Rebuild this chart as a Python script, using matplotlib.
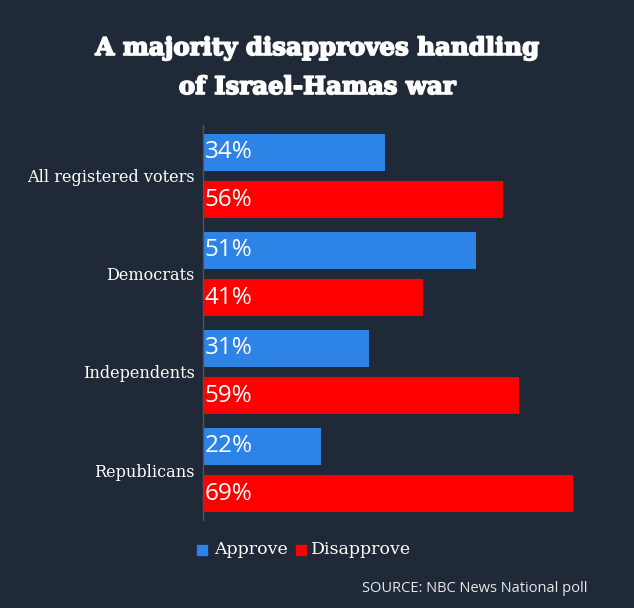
import numpy as np
import matplotlib
matplotlib.use('Agg')
import matplotlib.pyplot as plt
import matplotlib.patches as mpatches
import matplotlib.patheffects as pe

# Dane
groups = ['All registered voters', 'Democrats', 'Independents', 'Republicans']
approve = [34, 51, 31, 22]
disapprove = [56, 41, 59, 69]

bg = '#1f2937'
c_app = '#2e83e6'
c_dis = '#ff0000'

fig = plt.figure(figsize=(6.34, 6.08), dpi=100, facecolor=bg)
W, H = 634, 608
ax = fig.add_axes([203 / W, 1 - 520 / H, 390 / W, 395 / H])
ax.set_facecolor(bg)

y = np.arange(len(groups))
off, h = 0.243, 0.375
ax.barh(y - off, approve, h, color=c_app)
ax.barh(y + off, disapprove, h, color=c_dis)

for yi, a, d in zip(y, approve, disapprove):
    ax.text(0.3, yi - off, f'{a}%', color='white', fontsize=17.5, family='Open Sans',
            va='center', ha='left')
    ax.text(0.3, yi + off, f'{d}%', color='white', fontsize=17.5, family='Open Sans',
            va='center', ha='left')

ax.set_xlim(0, 72.8)
ax.set_ylim(3.51, -0.52)
ax.set_xticks([])
ax.set_yticks(y)
ax.set_yticklabels(groups, color='white', fontsize=11.6, family='DejaVu Serif')
ax.tick_params(axis='y', length=0, pad=6)
for s in ['top', 'right', 'bottom']:
    ax.spines[s].set_visible(False)
ax.spines['left'].set_color('#4a5566')
ax.spines['left'].set_linewidth(1)

title_fx = [pe.withStroke(linewidth=1.2, foreground='white')]
fig.text(0.5, 1 - 48 / H, 'A majority disapproves handling', ha='center', va='center',
         color='white', fontsize=17.6, fontweight='heavy', family='DejaVu Serif',
         path_effects=title_fx)
fig.text(0.5, 1 - 87 / H, 'of Israel-Hamas war', ha='center', va='center',
         color='white', fontsize=17.6, fontweight='heavy', family='DejaVu Serif',
         path_effects=title_fx)

# Legenda
fig.patches.append(mpatches.Rectangle((197 / W, 1 - 555 / H), 10 / W, 10 / H,
                                      transform=fig.transFigure, color=c_app))
fig.text(214 / W, 1 - 549 / H, 'Approve', color='white', fontsize=12.5,
         family='DejaVu Serif', va='center')
fig.patches.append(mpatches.Rectangle((296 / W, 1 - 555 / H), 10 / W, 10 / H,
                                      transform=fig.transFigure, color=c_dis))
fig.text(311 / W, 1 - 549 / H, 'Disapprove', color='white', fontsize=12.5,
         family='DejaVu Serif', va='center')

fig.text(588 / W, 1 - 589 / H, 'SOURCE: NBC News National poll', color='#e6e8eb',
         fontsize=10.5, family='Open Sans', ha='right', va='center')

plt.savefig('out.png', dpi=100, facecolor=bg)
